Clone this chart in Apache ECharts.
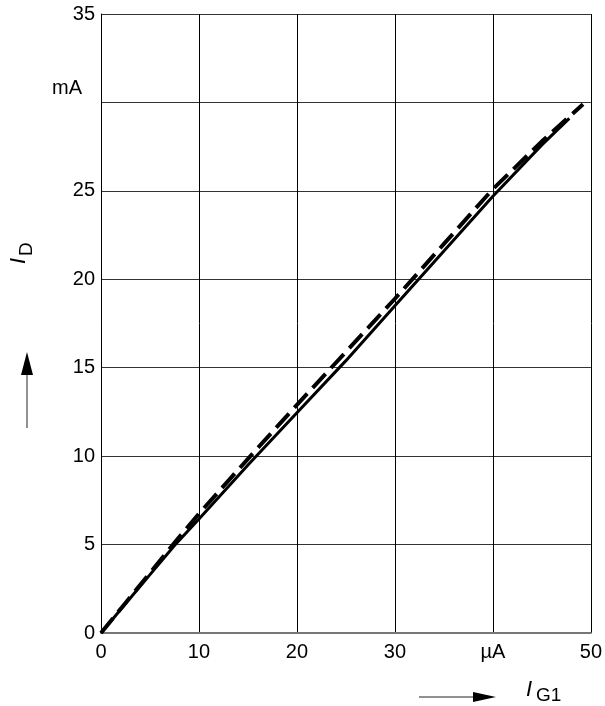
<!DOCTYPE html>
<html>
<head>
<meta charset="utf-8">
<script src="https://cdn.jsdelivr.net/npm/echarts@6/dist/echarts.min.js"></script>
<style>html,body{margin:0;padding:0;background:#fff;}#c{width:605px;height:706px;}</style>
</head>
<body>
<div id="c"></div>
<script>
// Data
var xTicks = [0, 10, 20, 30, 40, 50];
var xTickLabels = ['0', '10', '20', '30', 'µA', '50'];
var yTicks = [0, 5, 10, 15, 20, 25, 30, 35];
var yTickLabels = ['0', '5', '10', '15', '20', '25', '', '35'];

var solidX = [0, 2.5, 5, 7.5, 10, 15, 20, 25, 30, 35, 40, 45, 47.8];
var solidY = [0, 1.65, 3.3, 4.95, 6.45, 9.5, 12.45, 15.4, 18.5, 21.6, 24.7, 27.6, 29.1];

var dashX = [0, 2.5, 5, 7.5, 10, 15, 20, 25, 30, 35, 40, 45, 49.2];
var dashY = [0, 1.7, 3.4, 5.1, 6.75, 9.85, 12.9, 15.9, 18.9, 22.0, 25.1, 27.8, 29.9];

function pairs(xs, ys) { return xs.map(function (x, i) { return [x, ys[i]]; }); }

var FONT = "'Liberation Sans', Arial, sans-serif";
var chart = echarts.init(document.getElementById('c'), null, {renderer: 'canvas'});
chart.setOption({
  animation: false,
  backgroundColor: '#fff',
  grid: {left: 101, right: 12, top: 14, bottom: 73},
  xAxis: {
    type: 'value', min: 0, max: 50, interval: 10,
    axisLine: {show: true, lineStyle: {color: '#777', width: 2}},
    axisTick: {show: false},
    axisLabel: {
      margin: 9, fontSize: 20, color: '#000', fontFamily: FONT,
      formatter: function (v) { var i = xTicks.indexOf(v); return i >= 0 ? xTickLabels[i] : ''; }
    },
    splitLine: {show: true, lineStyle: {color: '#000', width: 1}}
  },
  yAxis: {
    type: 'value', min: 0, max: 35, interval: 5,
    axisLine: {show: true, lineStyle: {color: '#000', width: 1}},
    axisTick: {show: false},
    axisLabel: {
      margin: 6, fontSize: 20, color: '#000', fontFamily: FONT,
      formatter: function (v) { var i = yTicks.indexOf(v); return i >= 0 ? yTickLabels[i] : ''; }
    },
    splitLine: {show: true, lineStyle: {color: '#333', width: 1}}
  },
  series: [
    {
      type: 'line', data: pairs(solidX, solidY), symbol: 'none', smooth: false,
      lineStyle: {color: '#000', width: 3}, z: 3
    },
    {
      type: 'line', data: pairs(dashX, dashY), symbol: 'none', smooth: false,
      lineStyle: {color: '#000', width: 4, type: [19, 8], cap: 'butt'}, z: 4
    }
  ],
  graphic: [
    {type: 'text', x: 82, y: 88, style: {text: 'mA', font: '20px ' + FONT, fill: '#000', textAlign: 'right', textVerticalAlign: 'middle'}},
    // y axis title, rotated
    {type: 'group', x: 19, y: 264, rotation: Math.PI / 2, children: [
      {type: 'text', x: 0, y: 0, style: {text: 'I', font: 'italic 22px ' + FONT, fill: '#000', textAlign: 'left', textVerticalAlign: 'middle'}},
      {type: 'text', x: 8, y: 8, style: {text: 'D', font: '19px ' + FONT, fill: '#000', textAlign: 'left', textVerticalAlign: 'middle'}}
    ]},
    // y arrow
    {type: 'line', shape: {x1: 27, y1: 428, x2: 27, y2: 372}, style: {stroke: '#222', lineWidth: 1}},
    {type: 'polygon', shape: {points: [[21, 375], [27, 352], [33, 375]]}, style: {fill: '#000'}},
    // x axis title
    {type: 'text', x: 526, y: 690, style: {text: 'I', font: 'italic 22px ' + FONT, fill: '#000', textAlign: 'left', textVerticalAlign: 'middle'}},
    {type: 'text', x: 536, y: 696, style: {text: 'G1', font: '19px ' + FONT, fill: '#000', textAlign: 'left', textVerticalAlign: 'middle'}},
    // x arrow
    {type: 'line', shape: {x1: 419, y1: 697, x2: 476, y2: 697}, style: {stroke: '#222', lineWidth: 1}},
    {type: 'polygon', shape: {points: [[473, 692], [496, 697], [473, 702]]}, style: {fill: '#000'}}
  ]
});
</script>
</body>
</html>
